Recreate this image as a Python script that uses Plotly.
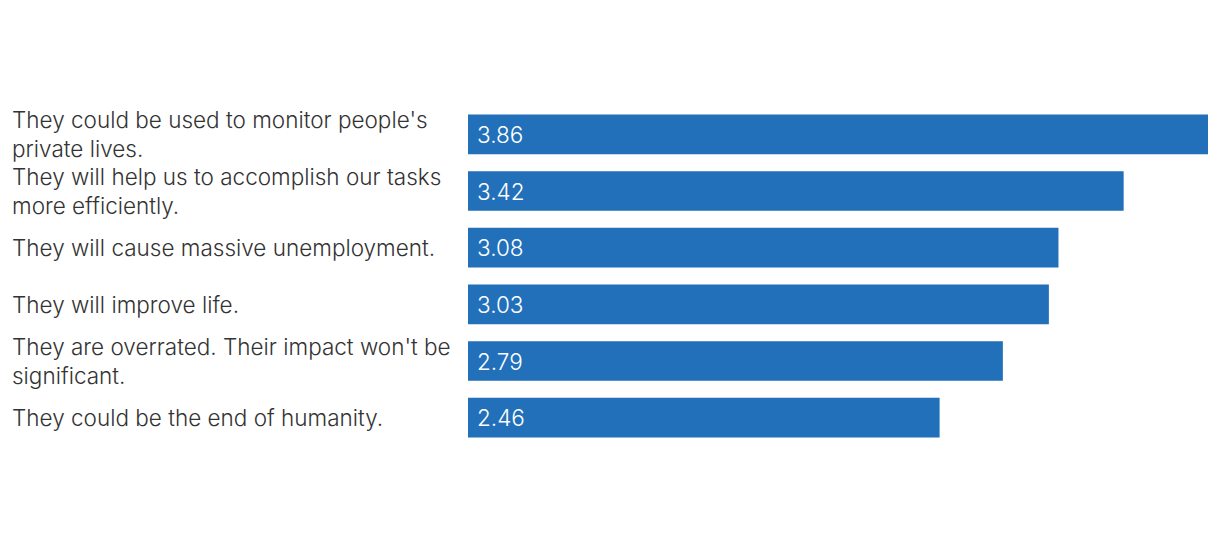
import plotly.graph_objects as go

categories = [
    "They could be used to monitor people's<br>private lives.",
    "They will help us to accomplish our tasks<br>more efficiently.",
    "They will cause massive unemployment.",
    "They will improve life.",
    "They are overrated. Their impact won't be<br>significant.",
    "They could be the end of humanity.",
]
values = [3.86, 3.42, 3.08, 3.03, 2.79, 2.46]
value_labels = ["3.86", "3.42", "3.08", "3.03", "2.79", "2.46"]

BAR_COLOR = "#2170b9"
FONT = "Inter"
FS = 22.5

fig = go.Figure(
    go.Bar(
        x=values,
        y=list(range(len(categories))),
        orientation="h",
        marker=dict(color=BAR_COLOR, line=dict(width=0)),
        width=0.7,
        hoverinfo="skip",
    )
)

for i, c in enumerate(categories):
    fig.add_annotation(
        x=0, xref="paper", y=i, yref="y",
        text=c, showarrow=False, xanchor="left", align="left",
        xshift=-458,
        font=dict(family=FONT, size=FS, color="#333333", weight=300),
    )
    fig.add_annotation(
        x=0, xref="x", y=i, yref="y",
        text=value_labels[i], showarrow=False, xanchor="left", align="left",
        xshift=7,
        font=dict(family=FONT, size=FS, color="white", weight=300),
    )

fig.update_layout(
    width=1220, height=546,
    margin=dict(l=460, r=20, t=98, b=108),
    paper_bgcolor="white", plot_bgcolor="white",
    showlegend=False,
    xaxis=dict(range=[0, max(values)], visible=False),
    yaxis=dict(range=[len(categories) - 0.5, -0.5], visible=False),
)

fig.write_html("out.html")
